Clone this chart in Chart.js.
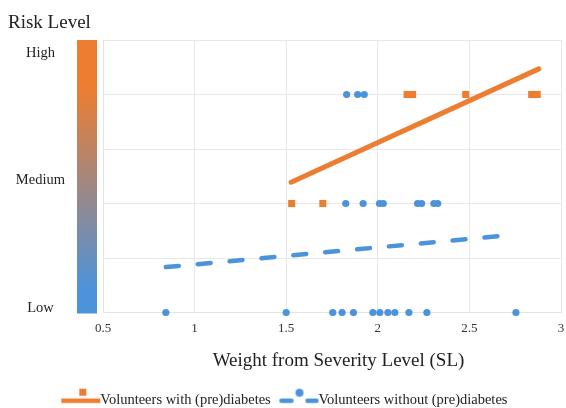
<!DOCTYPE html>
<html>
<head>
<meta charset="utf-8">
<script src="https://cdn.jsdelivr.net/npm/chart.js@4.4.1/dist/chart.umd.min.js"></script>
<style>
  html, body { margin: 0; padding: 0; background: #fff; }
  #wrap { width: 566px; height: 408px; }
</style>
</head>
<body>
<div id="wrap"><canvas id="chart" width="566" height="408"></canvas></div>
<script>
// risk level: 0 = Low, 2 = Medium, 4 = High
const withDiabetesX = [2.16, 2.19, 2.48, 2.84, 2.87, 1.53, 1.70];
const withDiabetesY = [4, 4, 4, 4, 4, 2, 2];

const withoutDiabetesX = [1.83, 1.89, 1.926,
  1.825, 1.92, 2.009, 2.03, 2.217, 2.239, 2.306, 2.327,
  0.843, 1.50, 1.754, 1.805, 1.867, 1.973, 2.011, 2.055, 2.093, 2.170, 2.268, 2.754];
const withoutDiabetesY = [4, 4, 4,
  2, 2, 2, 2, 2, 2, 2, 2,
  0, 0, 0, 0, 0, 0, 0, 0, 0, 0, 0, 0];

// trend lines (start and end)
const trendWithX = [1.527, 2.879];
const trendWithY = [2.39, 4.47];
const trendWithoutX = [0.843, 2.754];
const trendWithoutY = [0.833, 1.43];

const riskLabels = ['Low', 'Medium', 'High'];
const riskLabelPos = [0.07, 2.43, 4.76];
const xTicks = [0.5, 1, 1.5, 2, 2.5, 3];

const legendLabels = ['Volunteers with (pre)diabetes', 'Volunteers without (pre)diabetes'];

const ORANGE = '#ED7D31';
const BLUE = '#4C93DB';
const FONT = "'Liberation Serif', 'Times New Roman', serif";

const toPoints = (xs, ys) => xs.map((x, i) => ({ x: x, y: ys[i] }));

// legend icons: line with a marker above it
function makeIcon(kind) {
  const c = document.createElement('canvas');
  c.width = 48;
  c.height = 26;
  const ctx = c.getContext('2d');
  if (kind === 'with') {
    ctx.strokeStyle = ORANGE;
    ctx.lineWidth = 4.5;
    ctx.beginPath();
    ctx.moveTo(8, 14);
    ctx.lineTo(47, 14);
    ctx.stroke();
    ctx.fillStyle = ORANGE;
    ctx.fillRect(26, 2, 7, 7);
  } else {
    ctx.strokeStyle = BLUE;
    ctx.lineWidth = 4.5;
    ctx.lineCap = 'round';
    ctx.beginPath();
    ctx.moveTo(10, 14);
    ctx.lineTo(20, 14);
    ctx.moveTo(36, 14);
    ctx.lineTo(45, 14);
    ctx.stroke();
    ctx.fillStyle = BLUE;
    ctx.beginPath();
    ctx.arc(28, 6, 4, 0, Math.PI * 2);
    ctx.fill();
  }
  return c;
}
const icons = [makeIcon('with'), makeIcon('without')];

const extras = {
  id: 'extras',
  afterDraw(chart) {
    const ctx = chart.ctx;
    const area = chart.chartArea;
    ctx.save();
    // risk gradient bar
    const grad = ctx.createLinearGradient(0, area.top, 0, area.bottom);
    grad.addColorStop(0, ORANGE);
    grad.addColorStop(0.18, ORANGE);
    grad.addColorStop(0.92, BLUE);
    grad.addColorStop(1, BLUE);
    ctx.fillStyle = grad;
    ctx.fillRect(77, area.top, 20, area.bottom - area.top + 1);

    ctx.fillStyle = '#222';
    ctx.textBaseline = 'alphabetic';
    ctx.font = '19px ' + FONT;
    ctx.textAlign = 'left';
    ctx.fillText('Risk Level', 8, 28);

    ctx.font = '19px ' + FONT;
    ctx.textAlign = 'center';
    ctx.fillText('Weight from Severity Level (SL)', 338.5, 366);
    ctx.restore();
  }
};

new Chart(document.getElementById('chart'), {
  type: 'scatter',
  data: {
    datasets: [
      {
        type: 'line',
        data: toPoints(trendWithX, trendWithY),
        borderColor: ORANGE,
        borderWidth: 5,
        borderCapStyle: 'round',
        pointRadius: 0,
        fill: false,
        order: 0
      },
      {
        type: 'line',
        data: toPoints(trendWithoutX, trendWithoutY),
        borderColor: BLUE,
        borderWidth: 4.5,
        borderCapStyle: 'round',
        borderDash: [13, 19],
        pointRadius: 0,
        fill: false,
        order: 0
      },
      {
        data: toPoints(withDiabetesX, withDiabetesY),
        pointStyle: 'rect',
        pointRadius: 5,
        backgroundColor: ORANGE,
        borderWidth: 0,
        order: 1
      },
      {
        data: toPoints(withoutDiabetesX, withoutDiabetesY),
        pointStyle: 'circle',
        pointRadius: 3.6,
        backgroundColor: BLUE,
        borderWidth: 0,
        order: 1
      }
    ]
  },
  options: {
    responsive: false,
    animation: false,
    clip: false,
    layout: { padding: { top: 40, left: 0, right: -3, bottom: -9 } },
    scales: {
      x: {
        type: 'linear',
        min: 0.5,
        max: 3,
        afterBuildTicks: (scale) => { scale.ticks = xTicks.map(v => ({ value: v })); },
        ticks: {
          font: { family: FONT, size: 13 },
          color: '#333',
          padding: 8,
          callback: (value) => String(value)
        },
        grid: { color: '#e8e8e8', drawTicks: false },
        border: { color: '#e3e3e3' },
        afterFit: (scale) => {
          scale.height = 71;
          scale.paddingRight = 0;
        }
      },
      y: {
        min: 0,
        max: 5,
        ticks: { stepSize: 1, display: false },
        grid: { color: '#e8e8e8', drawTicks: false },
        border: { color: '#e3e3e3' },
        afterFit: (scale) => { scale.width = 21; }
      },
      yRisk: {
        position: 'left',
        weight: 1,
        min: 0,
        max: 5,
        afterBuildTicks: (scale) => { scale.ticks = riskLabelPos.map(v => ({ value: v })); },
        ticks: {
          crossAlign: 'center',
          padding: 9,
          color: '#222',
          font: { family: FONT, size: 14.5 },
          callback: (value, index) => riskLabels[index]
        },
        grid: { display: false },
        border: { display: false },
        afterFit: (scale) => { scale.width = 82; }
      }
    },
    plugins: {
      tooltip: { enabled: false },
      legend: {
        position: 'bottom',
        onClick: null,
        labels: {
          usePointStyle: true,
          pointStyleWidth: 31.5,
          padding: 9,
          color: '#222',
          font: { family: FONT, size: 14.5 },
          generateLabels: () => legendLabels.map((text, i) => ({
            text: text,
            pointStyle: icons[i],
            fillStyle: 'transparent',
            strokeStyle: 'transparent',
            lineWidth: 0,
            fontColor: '#222',
            hidden: false,
            datasetIndex: i
          }))
        }
      }
    }
  },
  plugins: [extras]
});
</script>
</body>
</html>
